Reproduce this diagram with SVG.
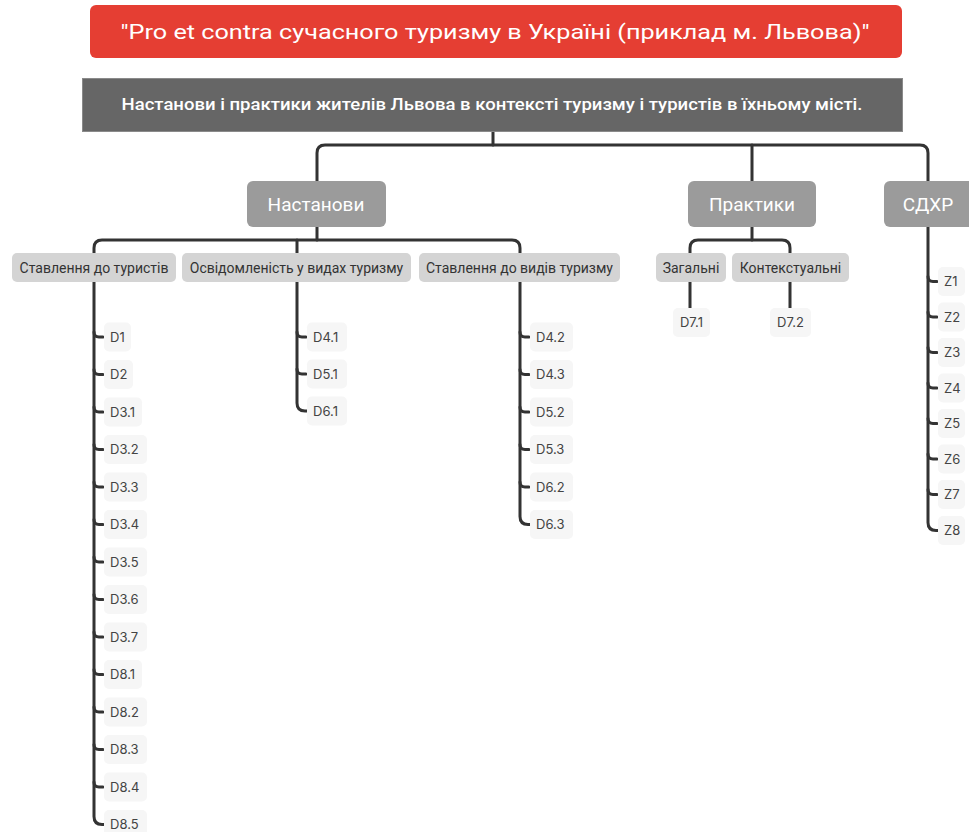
<svg xmlns="http://www.w3.org/2000/svg" width="969" height="832" viewBox="0 0 969 832">
<style>
.c{fill:none;stroke:#333;stroke-width:3;stroke-linecap:round;stroke-linejoin:round}
.l1{fill:#9b9b9b}
.l2{fill:#d4d4d4}
.lf{fill:#f6f6f6}
.t1{font-family:Roboto,"Liberation Sans",sans-serif;font-size:19px;fill:#fff;text-anchor:middle}
.t2{font-family:Roboto,"Liberation Sans",sans-serif;font-size:14px;fill:#333;text-anchor:middle}
.tl{font-family:Inter,"Noto Sans","Liberation Sans",sans-serif;font-size:13px;fill:#444}
</style>
<rect width="969" height="832" fill="#fff"/>
<g id="connectors">
<path class="c" d="M493,132 V145"/>
<path class="c" d="M317,181 V153 Q317,145 325,145 H920 Q928,145 928,153 V181"/>
<path class="c" d="M752,145 V181"/>
<path class="c" d="M317,227 V240"/>
<path class="c" d="M94,253 V248 Q94,240 102,240 H512 Q520,240 520,248 V253"/>
<path class="c" d="M297,240 V253"/>
<path class="c" d="M752,227 V240"/>
<path class="c" d="M690,253 V248 Q690,240 698,240 H782 Q790,240 790,248 V253"/>
<path class="c" d="M690,282 V308"/>
<path class="c" d="M790,282 V308"/>
<path class="c" d="M94,282 V816.5 Q94,824.5 102,824.5 H104"/>
<path class="c" d="M94,332 Q94,337 99,337 H103 M94,369.5 Q94,374.5 99,374.5 H103 M94,407 Q94,412 99,412 H103 M94,444.5 Q94,449.5 99,449.5 H103 M94,482 Q94,487 99,487 H103 M94,519.5 Q94,524.5 99,524.5 H103 M94,557 Q94,562 99,562 H103 M94,594.5 Q94,599.5 99,599.5 H103 M94,632 Q94,637 99,637 H103 M94,669.5 Q94,674.5 99,674.5 H103 M94,707 Q94,712 99,712 H103 M94,744.5 Q94,749.5 99,749.5 H103 M94,782 Q94,787 99,787 H103"/>
<path class="c" d="M297,282 V403 Q297,411 305,411 H307"/>
<path class="c" d="M297,332 Q297,337 302,337 H306 M297,369 Q297,374 302,374 H306"/>
<path class="c" d="M520,282 V516.5 Q520,524.5 528,524.5 H530"/>
<path class="c" d="M520,332 Q520,337 525,337 H529 M520,369.5 Q520,374.5 525,374.5 H529 M520,407 Q520,412 525,412 H529 M520,444.5 Q520,449.5 525,449.5 H529 M520,482 Q520,487 525,487 H529"/>
<path class="c" d="M928,227 V522.5 Q928,530.5 936,530.5 H938"/>
<path class="c" d="M928,276.5 Q928,281.5 933,281.5 H937 M928,312 Q928,317 933,317 H937 M928,347.5 Q928,352.5 933,352.5 H937 M928,383 Q928,388 933,388 H937 M928,418.5 Q928,423.5 933,423.5 H937 M928,454 Q928,459 933,459 H937 M928,489.5 Q928,494.5 933,494.5 H937"/>
</g>
<g id="title">
<rect x="90" y="5" width="812" height="53" rx="6" fill="#e53e33"/>
<text x="495" y="39" font-family="Roboto,'Liberation Sans',sans-serif" font-size="21" fill="#fff" text-anchor="middle" textLength="749" lengthAdjust="spacingAndGlyphs">"Pro et contra сучасного туризму в Україні (приклад м. Львова)"</text>
</g>
<g id="root">
<rect x="82.5" y="78.5" width="820" height="53" fill="#666" stroke="#8a8a8a" stroke-width="1"/>
<text x="492" y="110" font-family="Roboto,'Liberation Sans',sans-serif" font-size="16" font-weight="500" fill="#fff" text-anchor="middle" textLength="741" lengthAdjust="spacingAndGlyphs">Настанови і практики жителів Львова в контексті туризму і туристів в їхньому місті.</text>
</g>
<g id="n-nastanovy"><rect class="l1" x="247" y="181" width="139" height="46" rx="6"/><text class="t1" x="316" y="211">Настанови</text></g>
<g id="n-praktyky"><rect class="l1" x="688" y="181" width="128" height="46" rx="6"/><text class="t1" x="752" y="211">Практики</text></g>
<g id="n-sdhr"><rect class="l1" x="884" y="181" width="95" height="46" rx="6"/><text class="t1" x="928" y="211">СДХР</text></g>
<g id="n-stavl-tur"><rect class="l2" x="12" y="253" width="164" height="29" rx="5"/><text class="t2" x="94" y="272.5">Ставлення до туристів</text></g>
<g id="n-osvid"><rect class="l2" x="182" y="253" width="229" height="29" rx="5"/><text class="t2" x="296.5" y="272.5">Освідомленість у видах туризму</text></g>
<g id="n-stavl-vyd"><rect class="l2" x="419" y="253" width="201" height="29" rx="5"/><text class="t2" x="519.5" y="272.5">Ставлення до видів туризму</text></g>
<g id="n-zagalni"><rect class="l2" x="656" y="253" width="70" height="29" rx="5"/><text class="t2" x="691" y="272.5">Загальні</text></g>
<g id="n-kontekst"><rect class="l2" x="732" y="253" width="117" height="29" rx="5"/><text class="t2" x="790.5" y="272.5">Контекстуальні</text></g>
<g id="n-d71"><rect class="lf" x="673" y="308" width="37" height="29" rx="5"/><text class="tl" x="691.5" y="327" text-anchor="middle">D7.1</text></g>
<g id="n-d72"><rect class="lf" x="770" y="308" width="41" height="29" rx="5"/><text class="tl" x="790.5" y="327" text-anchor="middle">D7.2</text></g>
<g id="n-d1"><rect class="lf" x="104" y="322.5" width="27" height="29" rx="5"/><text class="tl" x="110" y="341.5">D1</text></g>
<g id="n-d2"><rect class="lf" x="104" y="360" width="29" height="29" rx="5"/><text class="tl" x="110" y="379">D2</text></g>
<g id="n-d31"><rect class="lf" x="104" y="397.5" width="38" height="29" rx="5"/><text class="tl" x="110" y="416.5">D3.1</text></g>
<g id="n-d32"><rect class="lf" x="104" y="435" width="43" height="29" rx="5"/><text class="tl" x="110" y="454">D3.2</text></g>
<g id="n-d33"><rect class="lf" x="104" y="472.5" width="43" height="29" rx="5"/><text class="tl" x="110" y="491.5">D3.3</text></g>
<g id="n-d34"><rect class="lf" x="104" y="510" width="43" height="29" rx="5"/><text class="tl" x="110" y="529">D3.4</text></g>
<g id="n-d35"><rect class="lf" x="104" y="547.5" width="43" height="29" rx="5"/><text class="tl" x="110" y="566.5">D3.5</text></g>
<g id="n-d36"><rect class="lf" x="104" y="585" width="43" height="29" rx="5"/><text class="tl" x="110" y="604">D3.6</text></g>
<g id="n-d37"><rect class="lf" x="104" y="622.5" width="43" height="29" rx="5"/><text class="tl" x="110" y="641.5">D3.7</text></g>
<g id="n-d81"><rect class="lf" x="104" y="660" width="38" height="29" rx="5"/><text class="tl" x="110" y="679">D8.1</text></g>
<g id="n-d82"><rect class="lf" x="104" y="697.5" width="43" height="29" rx="5"/><text class="tl" x="110" y="716.5">D8.2</text></g>
<g id="n-d83"><rect class="lf" x="104" y="735" width="43" height="29" rx="5"/><text class="tl" x="110" y="754">D8.3</text></g>
<g id="n-d84"><rect class="lf" x="104" y="772.5" width="43" height="29" rx="5"/><text class="tl" x="110" y="791.5">D8.4</text></g>
<g id="n-d85"><rect class="lf" x="104" y="810" width="43" height="29" rx="5"/><text class="tl" x="110" y="829">D8.5</text></g>
<g id="n-d41"><rect class="lf" x="307" y="322.5" width="40" height="29" rx="5"/><text class="tl" x="313" y="341.5">D4.1</text></g>
<g id="n-d51"><rect class="lf" x="307" y="359.5" width="40" height="29" rx="5"/><text class="tl" x="313" y="378.5">D5.1</text></g>
<g id="n-d61"><rect class="lf" x="307" y="396.5" width="40" height="29" rx="5"/><text class="tl" x="313" y="415.5">D6.1</text></g>
<g id="n-d42"><rect class="lf" x="530" y="322.5" width="43" height="29" rx="5"/><text class="tl" x="536" y="341.5">D4.2</text></g>
<g id="n-d43"><rect class="lf" x="530" y="360" width="43" height="29" rx="5"/><text class="tl" x="536" y="379">D4.3</text></g>
<g id="n-d52"><rect class="lf" x="530" y="397.5" width="43" height="29" rx="5"/><text class="tl" x="536" y="416.5">D5.2</text></g>
<g id="n-d53"><rect class="lf" x="530" y="435" width="43" height="29" rx="5"/><text class="tl" x="536" y="454">D5.3</text></g>
<g id="n-d62"><rect class="lf" x="530" y="472.5" width="43" height="29" rx="5"/><text class="tl" x="536" y="491.5">D6.2</text></g>
<g id="n-d63"><rect class="lf" x="530" y="510" width="43" height="29" rx="5"/><text class="tl" x="536" y="529">D6.3</text></g>
<g id="n-z1"><rect class="lf" x="938" y="267" width="27" height="29" rx="5"/><text class="tl" x="944" y="286">Z1</text></g>
<g id="n-z2"><rect class="lf" x="938" y="302.5" width="27" height="29" rx="5"/><text class="tl" x="944" y="321.5">Z2</text></g>
<g id="n-z3"><rect class="lf" x="938" y="338" width="27" height="29" rx="5"/><text class="tl" x="944" y="357">Z3</text></g>
<g id="n-z4"><rect class="lf" x="938" y="373.5" width="27" height="29" rx="5"/><text class="tl" x="944" y="392.5">Z4</text></g>
<g id="n-z5"><rect class="lf" x="938" y="409" width="27" height="29" rx="5"/><text class="tl" x="944" y="428">Z5</text></g>
<g id="n-z6"><rect class="lf" x="938" y="444.5" width="27" height="29" rx="5"/><text class="tl" x="944" y="463.5">Z6</text></g>
<g id="n-z7"><rect class="lf" x="938" y="480" width="27" height="29" rx="5"/><text class="tl" x="944" y="499">Z7</text></g>
<g id="n-z8"><rect class="lf" x="938" y="516" width="27" height="29" rx="5"/><text class="tl" x="944" y="535">Z8</text></g>
</svg>
